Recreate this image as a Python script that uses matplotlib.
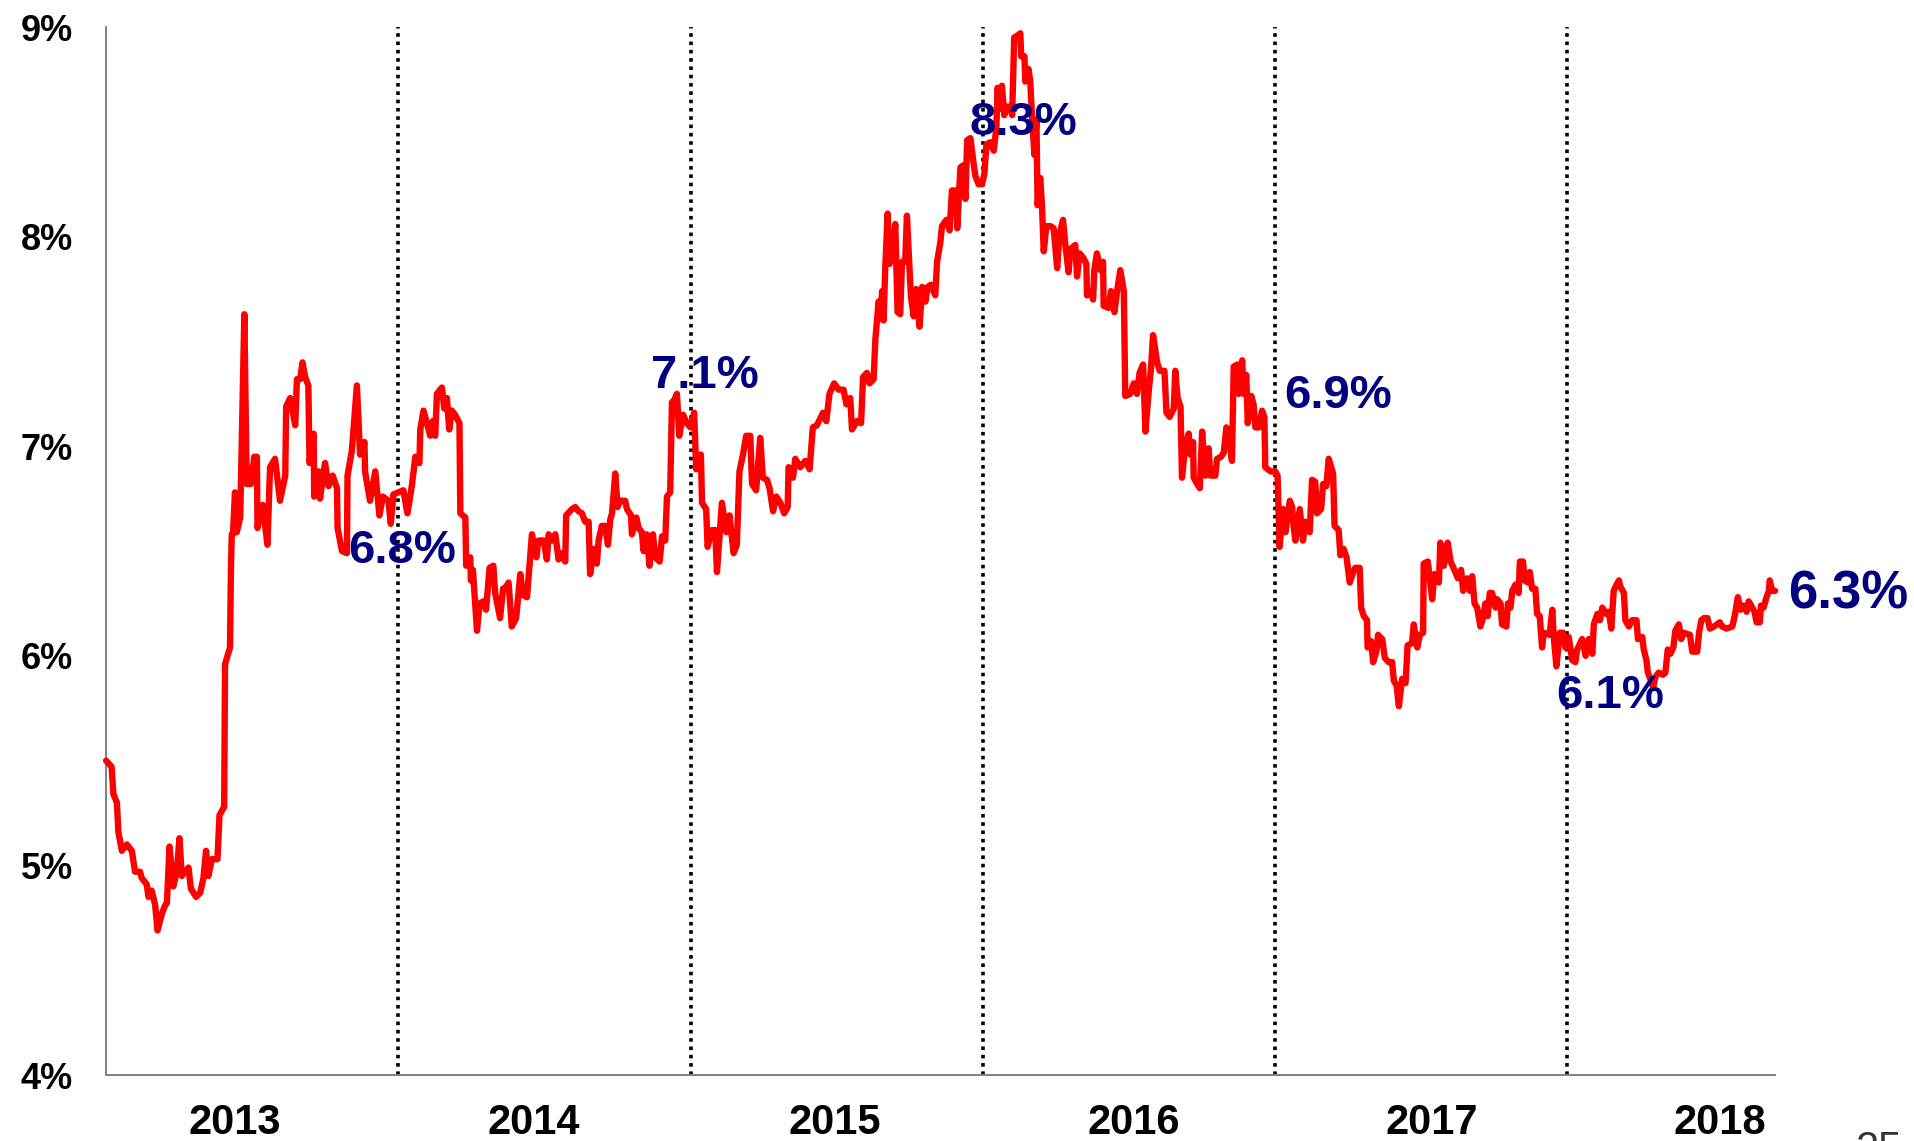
import matplotlib
matplotlib.use("Agg")
import matplotlib.pyplot as plt
import numpy as np

plt.rcParams['font.family'] = ['Liberation Sans', 'DejaVu Sans']

# time axis = years since Jan 2013, values = yield in %
t13 = [0.000, 0.019, 0.025, 0.037, 0.042, 0.054, 0.071, 0.088, 0.099, 0.116, 0.122, 0.139,
       0.145, 0.156, 0.168, 0.176, 0.191, 0.202, 0.208, 0.217, 0.230, 0.242, 0.251, 0.259,
       0.282, 0.290, 0.308, 0.322, 0.333, 0.342, 0.350, 0.362, 0.381, 0.388, 0.404, 0.407,
       0.424, 0.427, 0.430, 0.434, 0.441, 0.447, 0.459, 0.473, 0.481, 0.495, 0.507, 0.516,
       0.518, 0.536, 0.552, 0.561, 0.578, 0.595, 0.613, 0.616, 0.630, 0.647, 0.653, 0.664,
       0.672, 0.681, 0.692, 0.696, 0.710, 0.712, 0.727, 0.732, 0.749, 0.761, 0.775, 0.790,
       0.792, 0.807, 0.824, 0.826, 0.841, 0.858, 0.869, 0.884, 0.886, 0.903, 0.921, 0.935,
       0.947, 0.966, 0.974, 0.983, 1.000]
v13 = [5.50, 5.47, 5.34, 5.30, 5.16, 5.07, 5.10, 5.07, 4.97, 4.97, 4.94, 4.91,
       4.85, 4.88, 4.81, 4.69, 4.77, 4.81, 4.82, 5.09, 4.90, 4.97, 5.13, 4.95,
       4.99, 4.89, 4.85, 4.87, 4.94, 5.07, 4.95, 5.03, 5.03, 5.24, 5.28, 5.96,
       6.04, 6.40, 6.58, 6.58, 6.78, 6.59, 6.66, 7.63, 6.82, 6.82, 6.95, 6.95,
       6.61, 6.72, 6.53, 6.90, 6.94, 6.74, 6.86, 7.19, 7.23, 7.10, 7.32, 7.32,
       7.40, 7.33, 7.29, 6.92, 7.06, 6.76, 6.88, 6.75, 6.92, 6.81, 6.86, 6.80,
       6.61, 6.50, 6.49, 6.86, 6.98, 7.29, 6.96, 7.02, 6.88, 6.74, 6.88, 6.67,
       6.76, 6.74, 6.63, 6.77, 6.78]

t14 = [1.017, 1.031, 1.046, 1.058, 1.072, 1.075, 1.086, 1.109, 1.118, 1.126, 1.132, 1.149,
       1.157, 1.166, 1.174, 1.183, 1.194, 1.209, 1.212, 1.229, 1.232, 1.246, 1.248, 1.255,
       1.269, 1.278, 1.291, 1.300, 1.312, 1.325, 1.331, 1.348, 1.358, 1.369, 1.377, 1.388,
       1.403, 1.417, 1.426, 1.440, 1.457, 1.472, 1.479, 1.497, 1.508, 1.514, 1.525, 1.537,
       1.548, 1.560, 1.571, 1.574, 1.594, 1.605, 1.616, 1.628, 1.639, 1.651, 1.656, 1.668,
       1.679, 1.685, 1.696, 1.708, 1.717, 1.725, 1.731, 1.742, 1.750, 1.759, 1.776, 1.782,
       1.796, 1.799, 1.814, 1.822, 1.833, 1.839, 1.850, 1.859, 1.871, 1.879, 1.894, 1.902,
       1.913, 1.919, 1.930, 1.936, 1.944, 1.953, 1.961, 1.974, 1.987]
v14 = [6.79, 6.68, 6.81, 6.95, 6.92, 7.08, 7.17, 7.05, 7.12, 7.05, 7.25, 7.28,
       7.18, 7.23, 7.08, 7.17, 7.15, 7.11, 6.68, 6.66, 6.43, 6.47, 6.36, 6.41,
       6.12, 6.25, 6.26, 6.22, 6.42, 6.43, 6.30, 6.18, 6.32, 6.33, 6.35, 6.14,
       6.18, 6.39, 6.29, 6.28, 6.58, 6.47, 6.55, 6.55, 6.46, 6.58, 6.55, 6.58,
       6.46, 6.49, 6.45, 6.67, 6.70, 6.71, 6.69, 6.68, 6.64, 6.64, 6.39, 6.51,
       6.44, 6.55, 6.62, 6.62, 6.53, 6.65, 6.68, 6.87, 6.71, 6.74, 6.74, 6.70,
       6.67, 6.58, 6.66, 6.61, 6.59, 6.50, 6.58, 6.43, 6.58, 6.47, 6.45, 6.57,
       6.55, 6.76, 6.78, 7.21, 7.22, 7.25, 7.05, 7.15, 7.11]

t15 = [1.999, 2.012, 2.019, 2.035, 2.039, 2.053, 2.058, 2.073, 2.084, 2.090, 2.107, 2.122,
       2.133, 2.147, 2.158, 2.167, 2.179, 2.190, 2.204, 2.210, 2.224, 2.238, 2.247, 2.261,
       2.270, 2.282, 2.293, 2.307, 2.320, 2.332, 2.335, 2.350, 2.358, 2.375, 2.392, 2.407,
       2.418, 2.432, 2.453, 2.464, 2.475, 2.491, 2.506, 2.523, 2.533, 2.546, 2.552, 2.569,
       2.583, 2.590, 2.603, 2.612, 2.626, 2.632, 2.643, 2.649, 2.655, 2.660, 2.666, 2.674,
       2.681, 2.692, 2.700, 2.708, 2.717, 2.723, 2.734, 2.740, 2.749, 2.754, 2.763, 2.772,
       2.783, 2.792, 2.803, 2.811, 2.822, 2.837, 2.843, 2.854, 2.860, 2.875, 2.886, 2.894,
       2.909, 2.912, 2.923, 2.932, 2.940, 2.946, 2.957, 2.968, 2.974, 2.985, 2.997]
v15 = [7.09, 7.16, 6.89, 6.96, 6.73, 6.70, 6.52, 6.60, 6.60, 6.40, 6.73, 6.59,
       6.67, 6.49, 6.53, 6.88, 6.96, 7.05, 7.05, 6.82, 6.79, 7.04, 6.85, 6.84,
       6.80, 6.69, 6.76, 6.73, 6.68, 6.71, 6.90, 6.85, 6.94, 6.90, 6.93, 6.89,
       7.09, 7.10, 7.16, 7.12, 7.25, 7.30, 7.27, 7.27, 7.20, 7.23, 7.08, 7.12,
       7.11, 7.33, 7.35, 7.30, 7.32, 7.51, 7.69, 7.61, 7.74, 7.60, 7.86, 8.11,
       7.87, 7.94, 8.06, 7.64, 7.63, 7.88, 7.88, 8.10, 7.84, 7.71, 7.62, 7.75,
       7.57, 7.76, 7.69, 7.76, 7.77, 7.72, 7.88, 7.97, 8.05, 8.08, 8.03, 8.22,
       8.22, 8.04, 8.33, 8.34, 8.18, 8.46, 8.47, 8.35, 8.29, 8.25, 8.25]

t16 = [3.005, 3.012, 3.025, 3.037, 3.046, 3.050, 3.060, 3.065, 3.073, 3.082, 3.094, 3.100,
       3.107, 3.119, 3.128, 3.131, 3.142, 3.145, 3.156, 3.162, 3.168, 3.176, 3.183, 3.187,
       3.196, 3.202, 3.208, 3.217, 3.231, 3.242, 3.254, 3.262, 3.274, 3.282, 3.293, 3.299,
       3.316, 3.322, 3.331, 3.343, 3.354, 3.356, 3.368, 3.377, 3.381, 3.390, 3.402, 3.411,
       3.413, 3.430, 3.438, 3.450, 3.459, 3.470, 3.482, 3.487, 3.504, 3.516, 3.527, 3.536,
       3.548, 3.556, 3.567, 3.575, 3.582, 3.596, 3.605, 3.621, 3.628, 3.639, 3.653, 3.658,
       3.666, 3.676, 3.681, 3.693, 3.704, 3.710, 3.719, 3.721, 3.733, 3.742, 3.750, 3.761,
       3.772, 3.778, 3.795, 3.801, 3.815, 3.824, 3.833, 3.841, 3.852, 3.858, 3.870, 3.875,
       3.887, 3.892, 3.901, 3.906, 3.918, 3.926, 3.932, 3.944, 3.955, 3.963, 3.966, 3.984]
v16 = [8.30, 8.44, 8.45, 8.41, 8.52, 8.71, 8.61, 8.72, 8.58, 8.62, 8.62, 8.58,
       8.95, 8.96, 8.97, 8.86, 8.86, 8.74, 8.80, 8.74, 8.57, 8.39, 8.56, 8.15,
       8.28, 8.15, 7.93, 8.05, 8.05, 8.04, 7.85, 8.01, 8.08, 7.96, 7.83, 7.94,
       7.96, 7.81, 7.92, 7.90, 7.87, 7.72, 7.74, 7.70, 7.84, 7.92, 7.84, 7.88,
       7.67, 7.66, 7.74, 7.64, 7.74, 7.84, 7.74, 7.24, 7.25, 7.30, 7.25, 7.35,
       7.39, 7.07, 7.26, 7.37, 7.53, 7.40, 7.36, 7.36, 7.16, 7.14, 7.18, 7.36,
       7.23, 7.19, 6.85, 7.01, 7.06, 6.96, 7.02, 6.85, 6.82, 6.80, 7.07, 6.86,
       6.99, 6.86, 6.86, 6.94, 6.95, 6.97, 7.09, 7.05, 6.93, 7.38, 7.39, 7.25,
       7.41, 7.25, 7.34, 7.11, 7.24, 7.20, 7.09, 7.09, 7.17, 7.14, 6.90, 6.88]

t17 = [4.000, 4.008, 4.015, 4.027, 4.035, 4.050, 4.058, 4.063, 4.069, 4.084, 4.095, 4.103,
       4.118, 4.126, 4.137, 4.143, 4.157, 4.164, 4.175, 4.183, 4.198, 4.203, 4.217, 4.223,
       4.234, 4.244, 4.255, 4.267, 4.274, 4.289, 4.294, 4.303, 4.314, 4.316, 4.328, 4.335,
       4.346, 4.352, 4.366, 4.375, 4.388, 4.400, 4.406, 4.415, 4.423, 4.434, 4.446, 4.453,
       4.468, 4.474, 4.486, 4.495, 4.506, 4.508, 4.522, 4.537, 4.545, 4.560, 4.565, 4.577,
       4.590, 4.600, 4.613, 4.625, 4.636, 4.643, 4.657, 4.666, 4.674, 4.682, 4.691, 4.702,
       4.711, 4.719, 4.727, 4.734, 4.742, 4.754, 4.759, 4.771, 4.776, 4.791, 4.796, 4.805,
       4.811, 4.822, 4.833, 4.837, 4.848, 4.853, 4.864, 4.871, 4.879, 4.890, 4.896, 4.905,
       4.913, 4.919, 4.939, 4.948, 4.953, 4.962, 4.974, 4.985, 4.993]
v17 = [6.88, 6.86, 6.52, 6.70, 6.59, 6.74, 6.71, 6.62, 6.55, 6.70, 6.55, 6.64,
       6.59, 6.84, 6.83, 6.68, 6.70, 6.82, 6.81, 6.94, 6.87, 6.62, 6.60, 6.48,
       6.51, 6.47, 6.35, 6.40, 6.42, 6.42, 6.23, 6.19, 6.17, 6.04, 6.07, 5.97,
       6.02, 6.10, 6.08, 5.99, 5.97, 5.97, 5.88, 5.86, 5.76, 5.89, 5.87, 6.05,
       6.06, 6.15, 6.04, 6.10, 6.11, 6.44, 6.45, 6.27, 6.39, 6.35, 6.54, 6.43,
       6.54, 6.45, 6.41, 6.37, 6.41, 6.31, 6.37, 6.31, 6.38, 6.25, 6.23, 6.14,
       6.18, 6.25, 6.19, 6.30, 6.30, 6.23, 6.27, 6.25, 6.15, 6.14, 6.25, 6.23,
       6.31, 6.34, 6.30, 6.45, 6.45, 6.36, 6.35, 6.40, 6.32, 6.32, 6.20, 6.19,
       6.04, 6.11, 6.10, 6.22, 6.09, 5.95, 6.11, 6.11, 6.04]

t18 = [5.004, 5.016, 5.027, 5.033, 5.050, 5.062, 5.073, 5.085, 5.090, 5.102, 5.111, 5.119,
       5.133, 5.141, 5.150, 5.158, 5.168, 5.176, 5.181, 5.193, 5.198, 5.210, 5.221, 5.236,
       5.241, 5.256, 5.261, 5.270, 5.275, 5.286, 5.293, 5.301, 5.312, 5.327, 5.335, 5.343,
       5.352, 5.362, 5.369, 5.381, 5.389, 5.398, 5.419, 5.427, 5.444, 5.450, 5.458, 5.467,
       5.479, 5.487, 5.501, 5.521, 5.529, 5.544, 5.564, 5.572, 5.583, 5.592, 5.603, 5.613,
       5.620, 5.632, 5.640, 5.647, 5.658, 5.662, 5.671, 5.681, 5.689, 5.692, 5.700, 5.710]
v18 = [6.09, 5.98, 5.97, 6.03, 6.08, 6.00, 6.08, 6.01, 6.15, 6.20, 6.17, 6.23,
       6.20, 6.21, 6.13, 6.31, 6.34, 6.36, 6.33, 6.30, 6.17, 6.14, 6.17, 6.17,
       6.08, 6.09, 6.03, 5.98, 5.92, 5.88, 5.85, 5.90, 5.92, 5.91, 5.92, 6.03,
       6.01, 6.04, 6.12, 6.15, 6.08, 6.11, 6.10, 6.02, 6.02, 6.11, 6.17, 6.18,
       6.18, 6.13, 6.14, 6.16, 6.14, 6.13, 6.14, 6.19, 6.28, 6.22, 6.24, 6.21,
       6.26, 6.23, 6.21, 6.16, 6.16, 6.24, 6.23, 6.28, 6.31, 6.36, 6.31, 6.31]

years = ["2013", "2014", "2015", "2016", "2017", "2018"]
year_pos = [0.44, 1.464, 2.492, 3.516, 4.536, 5.522]
year_breaks = [1, 2, 3, 4, 5]

note_text = ["6.8%", "7.1%", "8.3%", "6.9%", "6.1%"]
note_t = [1.013, 2.047, 3.137, 4.215, 5.147]
note_v = [6.443, 7.278, 8.485, 7.182, 5.751]
last_text = "6.3%"

t = np.concatenate([t13, t14, t15, t16, t17, t18])
v = np.concatenate([v13, v14, v15, v16, v17, v18])

fig = plt.figure(figsize=(19.15, 11.41), dpi=100)
ax = fig.add_axes([0.0554, 0.0578, 0.8715, 0.9185])

for b in year_breaks:
    ax.axvline(b, color='black', lw=2.6, linestyle=(0, (1, 1.3)), dash_capstyle='butt', zorder=1)

ax.plot(t, v, color='#ff0000', lw=4.6, solid_joinstyle='round', solid_capstyle='round',
        zorder=3, clip_on=False)

for txt, x, y in zip(note_text, note_t, note_v):
    ax.text(x, y, txt, ha='center', va='baseline', fontsize=34, fontweight='bold',
            color='#000080', zorder=4)
ax.text(t[-1] + 0.045, 6.228, last_text, ha='left', va='baseline', fontsize=38,
        fontweight='bold', color='#000080', clip_on=False)

ax.set_xlim(0, 5.71)
ax.set_ylim(4, 9)
ax.set_yticks(range(4, 10))
ax.set_yticklabels([f"{k}%" for k in range(4, 10)], fontsize=26, fontweight='bold')
ax.set_xticks(year_pos)
ax.set_xticklabels(years, fontsize=30, fontweight='bold')
ax.tick_params(axis='y', length=0, pad=24)
ax.tick_params(axis='x', length=0, pad=20)

for s in ['top', 'right']:
    ax.spines[s].set_visible(False)
for s in ['left', 'bottom']:
    ax.spines[s].set_color('#808080')
    ax.spines[s].set_linewidth(1.4)

# page number, cut at the bottom edge like in the slide
fig.text(0.9815, 0.0096, "25", ha='center', va='top', fontsize=30, color='#333333')

fig.savefig("out.png", dpi=100)
